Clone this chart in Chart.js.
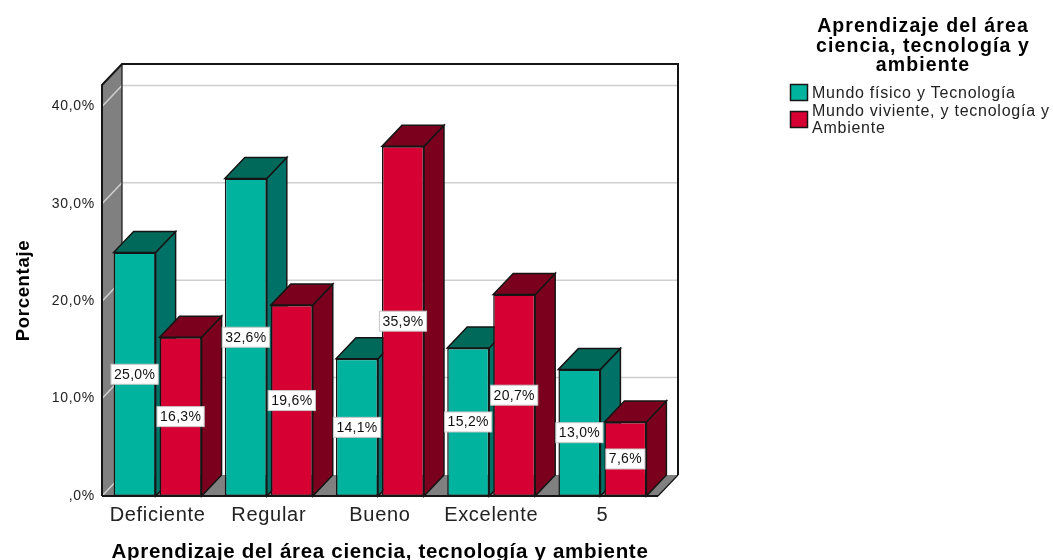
<!DOCTYPE html>
<html>
<head>
<meta charset="utf-8">
<style>
  html, body { margin: 0; padding: 0; background: #fff; }
  canvas { display: block; }
</style>
<script src="https://cdn.jsdelivr.net/npm/chart.js@4/dist/chart.umd.min.js"></script>
</head>
<body>
<canvas id="chart" width="1053" height="560"></canvas>
<script>
const categories = ['Deficiente', 'Regular', 'Bueno', 'Excelente', '5'];
const mundoFisico = [25.0, 32.6, 14.1, 15.2, 13.0];
const mundoViviente = [16.3, 19.6, 35.9, 20.7, 7.6];
const yTicks = [0, 10, 20, 30, 40];
const legendTitle = ['Aprendizaje del área', 'ciencia, tecnología y', 'ambiente'];
const xTitle = 'Aprendizaje del área ciencia, tecnología y ambiente';
const yTitle = 'Porcentaje';

const FONT = '"Liberation Sans", Arial, sans-serif';
const DEPTH_X = 20;
const DEPTH_Y = 21;
const LINE = '#151515';

function fmt(v) {
    if (v === 0) return ',0%';
    return v.toFixed(1).replace('.', ',') + '%';
}

function poly(ctx, pts, fill, stroke, lw) {
    ctx.beginPath();
    pts.forEach((p, i) => i ? ctx.lineTo(p[0], p[1]) : ctx.moveTo(p[0], p[1]));
    ctx.closePath();
    if (fill) { ctx.fillStyle = fill; ctx.fill(); }
    if (stroke) { ctx.strokeStyle = stroke; ctx.lineWidth = lw || 1; ctx.stroke(); }
}

const boxPlugin = {
    id: 'box3d',
    // el texto de referencia va algo espaciado
    beforeDraw(chart) {
        chart.ctx.letterSpacing = '0.7px';
    },
    // paredes, piso, rejilla y luego las caras 3D de las barras
    beforeDatasetsDraw(chart) {
        const { ctx, chartArea: a, scales } = chart;
        const dx = DEPTH_X, dy = DEPTH_Y;
        ctx.save();
        poly(ctx, [[a.left + dx, a.top - dy], [a.right + dx, a.top - dy], [a.right + dx, a.bottom - dy], [a.left + dx, a.bottom - dy]], '#fff');
        poly(ctx, [[a.left, a.top], [a.left + dx, a.top - dy], [a.left + dx, a.bottom - dy], [a.left, a.bottom]], '#808080');
        poly(ctx, [[a.left, a.bottom], [a.left + dx, a.bottom - dy], [a.right + dx, a.bottom - dy], [a.right, a.bottom]], '#808080');

        yTicks.forEach(v => {
            const y = scales.y.getPixelForValue(v);
            ctx.strokeStyle = '#cfcfcf';
            ctx.lineWidth = 1.5;
            ctx.beginPath();
            ctx.moveTo(a.left, y);
            ctx.lineTo(a.left + dx, y - dy);
            if (v > 0) ctx.lineTo(a.right + dx, y - dy);
            ctx.stroke();
        });

        ctx.strokeStyle = LINE;
        ctx.lineWidth = 2;
        ctx.beginPath();
        ctx.moveTo(a.left, a.bottom);
        ctx.lineTo(a.left, a.top);
        ctx.lineTo(a.left + dx, a.top - dy);
        ctx.lineTo(a.right + dx, a.top - dy);
        ctx.lineTo(a.right + dx, a.bottom - dy);
        ctx.stroke();
        ctx.lineWidth = 1.2;
        ctx.beginPath();
        ctx.moveTo(a.left + dx, a.top - dy);
        ctx.lineTo(a.left + dx, a.bottom - dy);
        ctx.moveTo(a.right + dx, a.bottom - dy);
        ctx.lineTo(a.right, a.bottom);
        ctx.stroke();
        ctx.lineWidth = 2;
        ctx.beginPath();
        ctx.moveTo(a.left, a.bottom);
        ctx.lineTo(a.right, a.bottom);
        ctx.stroke();

        // primero la serie verde, la roja queda por encima
        chart.data.datasets.forEach((ds, i) => {
            chart.getDatasetMeta(i).data.forEach(bar => {
                const l = bar.x - bar.width / 2, r = bar.x + bar.width / 2;
                const t = bar.y, b = bar.base;
                poly(ctx, [[r, t], [r + dx, t - dy], [r + dx, b - dy], [r, b]], ds.sideColor, LINE, 1.5);
                poly(ctx, [[l, t], [l + dx, t - dy], [r + dx, t - dy], [r, t]], ds.topColor, LINE, 1.5);
            });
        });
        ctx.restore();
    },
    afterDatasetsDraw(chart) {
        const { ctx } = chart;
        ctx.save();
        ctx.font = '14px ' + FONT;
        ctx.letterSpacing = '0.3px';
        ctx.textAlign = 'center';
        ctx.textBaseline = 'middle';
        chart.data.datasets.forEach((ds, i) => {
            chart.getDatasetMeta(i).data.forEach((bar, j) => {
                const txt = fmt(ds.data[j]);
                const w = ctx.measureText(txt).width + 6;
                const h = 20;
                const cy = (bar.y + bar.base) / 2;
                ctx.fillStyle = '#fff';
                ctx.fillRect(bar.x - w / 2, cy - h / 2, w, h);
                ctx.strokeStyle = '#c8c8c8';
                ctx.lineWidth = 1;
                ctx.strokeRect(bar.x - w / 2, cy - h / 2, w, h);
                ctx.fillStyle = '#111';
                ctx.fillText(txt, bar.x, cy + 0.5);
            });
        });
        ctx.restore();
    },
    afterDraw(chart) {
        // leyenda a la derecha
        const { ctx } = chart;
        ctx.save();
        ctx.fillStyle = '#000';
        ctx.textBaseline = 'middle';
        ctx.textAlign = 'center';
        ctx.font = 'bold 19.5px ' + FONT;
        ctx.letterSpacing = '1.1px';
        legendTitle.forEach((t, i) => ctx.fillText(t, 923, 27 + i * 19.5));

        ctx.textAlign = 'left';
        ctx.font = '16px ' + FONT;
        ctx.letterSpacing = '0.75px';
        const rows = [
            { ds: chart.data.datasets[0], y: 84, lines: [['Mundo físico y Tecnología', 94]] },
            { ds: chart.data.datasets[1], y: 111, lines: [['Mundo viviente, y tecnología y', 112], ['Ambiente', 129]] }
        ];
        rows.forEach(row => {
            ctx.fillStyle = row.ds.backgroundColor;
            ctx.strokeStyle = LINE;
            ctx.lineWidth = 1.5;
            ctx.fillRect(790.5, row.y + 0.5, 17, 16);
            ctx.strokeRect(790.5, row.y + 0.5, 17, 16);
            ctx.fillStyle = '#222';
            row.lines.forEach(l => ctx.fillText(l[0], 812, l[1]));
        });
        ctx.restore();
    }
};

new Chart(document.getElementById('chart'), {
    type: 'bar',
    data: {
        labels: categories,
        datasets: [
            { label: 'Mundo físico y Tecnología', data: mundoFisico, backgroundColor: '#00B39E', sideColor: '#007166', topColor: '#00695A', borderColor: LINE, borderWidth: 1.5, borderSkipped: false },
            { label: 'Mundo viviente, y tecnología y Ambiente', data: mundoViviente, backgroundColor: '#D60032', sideColor: '#7A001E', topColor: '#7A001E', borderColor: LINE, borderWidth: 1.5, borderSkipped: false }
        ]
    },
    plugins: [boxPlugin],
    options: {
        responsive: false,
        animation: false,
        categoryPercentage: 0.827,
        barPercentage: 0.913,
        layout: { padding: { top: 85, right: 395, left: 0, bottom: 0 } },
        plugins: { legend: { display: false }, tooltip: { enabled: false } },
        scales: {
            x: {
                grid: { display: false, drawTicks: false },
                border: { display: false },
                ticks: { color: '#222', font: { family: FONT, size: 20 }, padding: 7, maxRotation: 0, autoSkip: false },
                title: { display: true, text: xTitle, color: '#000', font: { family: FONT, size: 20.5, weight: 'bold' }, padding: { top: 6, bottom: -5 } },
                afterFit(s) { s.height = 64; }
            },
            y: {
                min: 0,
                max: 42.2,
                afterBuildTicks(s) { s.ticks = yTicks.map(v => ({ value: v })); },
                grid: { display: false, drawTicks: false },
                border: { display: false },
                ticks: { color: '#222', font: { family: FONT, size: 14 }, padding: 7, callback: v => fmt(v) },
                title: { display: true, text: yTitle, color: '#000', font: { family: FONT, size: 18.5, weight: 'bold' }, padding: { top: 13, bottom: 0 } },
                afterFit(s) { s.width = 102; }
            }
        }
    }
});
</script>
</body>
</html>
